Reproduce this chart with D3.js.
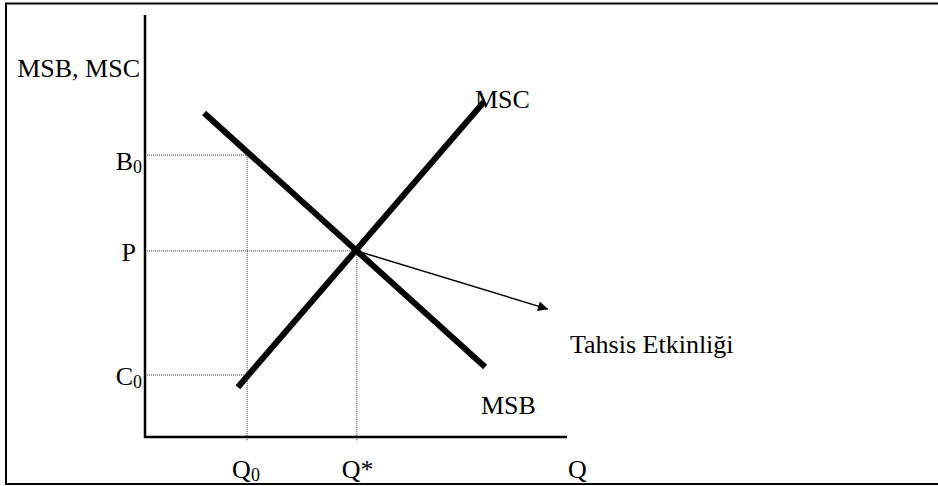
<!DOCTYPE html>
<html lang="tr">
<head>
<meta charset="UTF-8">
<title>MSB MSC</title>
<script src="https://d3js.org/d3.v7.min.js"></script>
<style>
  body { margin: 0; background: #fff; }
  svg text { font-family: "Liberation Serif", Tinos, "Times New Roman", "DejaVu Serif", serif; fill: #000; }
</style>
</head>
<body>
<svg id="chart" width="938" height="486"></svg>
<script>
// values, in axis units (0..10 both ways)
const yTicks = [
  {main: "B", sub: "0", v: 6.68},
  {main: "P", sub: "", v: 4.41},
  {main: "C", sub: "0", v: 1.47}
];
const xTicks = [
  {main: "Q", sub: "0", v: 2.42},
  {main: "Q*", sub: "", v: 5.02}
];
const msb = [[1.40, 7.68], [8.06, 1.66]];
const msc = [[2.20, 1.18], [8.03, 7.94]];
const arrowLine = [[5.02, 4.41], [9.55, 3.03]];
// dotted guides: [x, y] pairs
const guides = [
  [[0, 6.68], [2.42, 6.68]],
  [[2.42, 6.68], [2.42, -0.1]],
  [[0, 4.41], [5.02, 4.41]],
  [[5.02, 4.41], [5.02, -0.1]],
  [[0, 1.47], [2.42, 1.47]]
];

const W = 938, H = 486;
const serif = '"Liberation Serif", Tinos, "Times New Roman", "DejaVu Serif", serif';
const svg = d3.select("#chart");

const x = d3.scaleLinear().domain([0, 10]).range([145, 567]);
const y = d3.scaleLinear().domain([0, 10]).range([437, 15]);
const line = d3.line().x(d => x(d[0])).y(d => y(d[1]));

// frame (no right edge in the original)
svg.append("path")
  .attr("d", `M${W},3.5 H6 V484 H${W}`)
  .attr("fill", "none").attr("stroke", "#000").attr("stroke-width", 2);

svg.append("defs").append("marker")
  .attr("id", "head").attr("viewBox", "0 0 10 10")
  .attr("refX", 10).attr("refY", 5)
  .attr("markerWidth", 14).attr("markerHeight", 10)
  .attr("markerUnits", "userSpaceOnUse")
  .attr("orient", "auto")
  .append("path").attr("d", "M0,0 L10,5 L0,10 Z").attr("fill", "#000");

// guides
svg.selectAll(".guide").data(guides).join("path")
  .attr("class", "guide")
  .attr("d", line)
  .attr("fill", "none").attr("stroke", "#333")
  .attr("stroke-width", 1).attr("stroke-dasharray", "1,1");

// axes
svg.append("path")
  .attr("d", line([[0, 10], [0, 0], [10, 0]]))
  .attr("fill", "none").attr("stroke", "#000").attr("stroke-width", 2.5);

// curves
svg.selectAll(".curve").data([msb, msc]).join("path")
  .attr("class", "curve")
  .attr("d", line)
  .attr("fill", "none").attr("stroke", "#000").attr("stroke-width", 6);

svg.append("path")
  .attr("d", line(arrowLine))
  .attr("fill", "none").attr("stroke", "#000").attr("stroke-width", 1.5)
  .attr("marker-end", "url(#head)");

// labels
const fs = 26, subFs = 18;
function addLabel(t, d) {
  t.append("tspan").text(d.main);
  if (d.sub) t.append("tspan").attr("font-size", subFs).attr("dy", 3).text(d.sub);
}
function txt(xp, yp, s) {
  return svg.append("text").attr("x", xp).attr("y", yp)
    .attr("font-family", serif).attr("font-size", fs).text(s);
}

txt(140, 77, "MSB, MSC").attr("text-anchor", "end");

svg.selectAll(".ylab").data(yTicks).join("text")
  .attr("class", "ylab")
  .attr("x", d => d.sub ? 142 : 136)
  .attr("y", (d, i) => y(d.v) + (i === 0 ? 15 : 10))
  .attr("text-anchor", "end")
  .attr("font-family", serif).attr("font-size", fs)
  .each(function (d) { addLabel(d3.select(this), d); });

svg.selectAll(".xlab").data(xTicks).join("text")
  .attr("class", "xlab")
  .attr("x", d => x(d.v) - 15)
  .attr("y", 478)
  .attr("font-family", serif).attr("font-size", fs)
  .each(function (d) { addLabel(d3.select(this), d); });

txt(568, 478, "Q");
txt(475, 108, "MSC");
txt(481, 414, "MSB");
txt(570, 353, "Tahsis Etkinliği");
</script>
</body>
</html>
